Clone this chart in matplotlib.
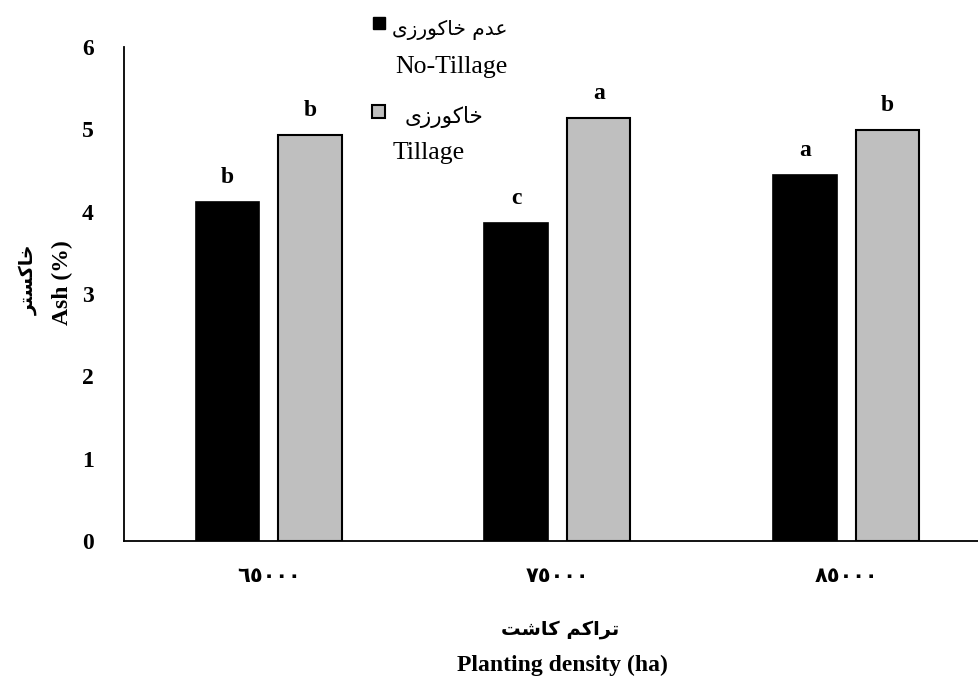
import numpy as np
import matplotlib
matplotlib.use("Agg")
import matplotlib.pyplot as plt
from matplotlib.patches import Rectangle

# data
densities = ["\u0666\u0665\u0660\u0660\u0660", "\u0667\u0665\u0660\u0660\u0660", "\u0668\u0665\u0660\u0660\u0660"]
no_tillage = [4.12, 3.86, 4.44]
tillage = [4.93, 5.13, 4.99]
letters_no_tillage = ["b", "c", "a"]
letters_tillage = ["b", "a", "b"]

# persian text, already shaped and in visual order (matplotlib does no shaping)
lbl_no_till_fa = "\uFBFC\uFEAF\uFEAD\uFEEE\uFB90\uFE8E\uFEA7 \uFEE1\uFEAA\uFECB"
lbl_till_fa = "\uFBFC\uFEAF\uFEAD\uFEEE\uFB90\uFE8E\uFEA7"
ylabel_fa = "\uFEAE\uFE98\uFEB4\uFB90\uFE8E\uFEA7"
xlabel_fa = "\uFE96\uFEB7\uFE8E\uFB90 \uFEE2\uFB90\uFE8D\uFEAE\uFE97"

serif = ["Liberation Serif", "DejaVu Sans"]
arab = ["DejaVu Sans"]

fig = plt.figure(figsize=(9.79, 6.78), dpi=100)
ax = fig.add_axes([0.127, 0.202, 0.873, 0.729])

x = np.arange(len(densities))
w = 0.22
off = 0.143
b1 = ax.bar(x - off, no_tillage, w, color="black", edgecolor="black", linewidth=1.2)
b2 = ax.bar(x + off, tillage, w, color="#bfbfbf", edgecolor="black", linewidth=1.5)

# significance letters
for i in range(len(x)):
    ax.text(x[i] - off, no_tillage[i] + 0.17, letters_no_tillage[i], ha="center", va="bottom",
            fontsize=17, fontweight="bold", family=serif)
    ax.text(x[i] + off, tillage[i] + 0.17, letters_tillage[i], ha="center", va="bottom",
            fontsize=17, fontweight="bold", family=serif)

ax.set_xlim(-0.5, 2.46)
ax.set_ylim(0, 6)
ax.set_yticks(np.arange(0, 7, 1))
ax.set_xticks(x)
ax.set_xticklabels(densities, fontsize=15, fontweight="bold", family=arab)
for t in ax.get_yticklabels():
    t.set_fontsize(17)
    t.set_fontweight("bold")
    t.set_family(serif)
ax.tick_params(axis="both", length=0)
ax.tick_params(axis="y", pad=22)
ax.tick_params(axis="x", pad=18)

for s in ["top", "right"]:
    ax.spines[s].set_visible(False)
for s in ["left", "bottom"]:
    ax.spines[s].set_linewidth(1.3)

# axis labels
fig.text(0.029, 0.587, ylabel_fa, rotation=90, ha="center", va="center",
         fontsize=13.5, fontweight="bold", family=arab)
fig.text(0.064, 0.583, "Ash (%)", rotation=90, ha="center", va="center",
         fontsize=17, fontweight="bold", family=serif)
fig.text(0.572, 0.071, xlabel_fa, ha="center", va="center",
         fontsize=14, fontweight="bold", family=arab)
fig.text(0.575, 0.018, "Planting density (ha)", ha="center", va="center",
         fontsize=17, fontweight="bold", family=serif)

# legend drawn by hand
fig.add_artist(Rectangle((373 / 979, 1 - 29 / 678), 12 / 979, 12 / 678,
                         facecolor="black", edgecolor="black", transform=fig.transFigure))
fig.text(392 / 979, 1 - 30 / 678, lbl_no_till_fa, ha="left", va="center", fontsize=14.5, family=arab)
fig.text(395 / 979, 1 - 67 / 678, "No-Tillage", ha="left", va="center", fontsize=18.5, family=serif)
fig.add_artist(Rectangle((372 / 979, 1 - 118 / 678), 13 / 979, 13 / 678,
                         facecolor="#bfbfbf", edgecolor="black", linewidth=1.5,
                         transform=fig.transFigure))
fig.text(405 / 979, 1 - 117 / 678, lbl_till_fa, ha="left", va="center", fontsize=15.5, family=arab)
fig.text(393 / 979, 1 - 153 / 678, "Tillage", ha="left", va="center", fontsize=18.5, family=serif)

fig.savefig("out.png", dpi=100)
